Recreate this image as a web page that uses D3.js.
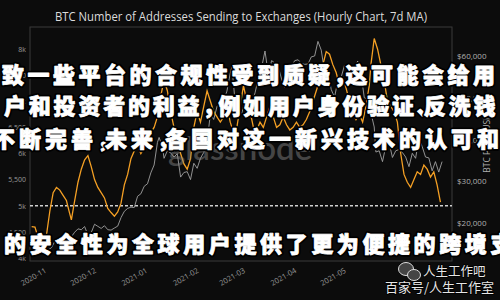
<!DOCTYPE html>
<html><head><meta charset="utf-8">
<script src="https://cdn.jsdelivr.net/npm/d3@7"></script>
<style>html,body{margin:0;padding:0;background:#0c0c0c;}svg{display:block}</style>
</head><body><svg id="c" width="500" height="300"></svg>
<script>
const chartTitle = "BTC Number of Addresses Sending to Exchanges (Hourly Chart, 7d MA)";
const rightAxisTitle = "BTC Price (USD)";
const addrDates = ["2020-10-23","2020-10-25","2020-10-27","2020-10-28","2020-10-30","2020-11-01","2020-11-03","2020-11-05","2020-11-07","2020-11-09","2020-11-11","2020-11-13","2020-11-15","2020-11-16","2020-11-18","2020-11-20","2020-11-22","2020-11-24","2020-11-26","2020-11-28","2020-11-30","2020-12-02","2020-12-04","2020-12-06","2020-12-08","2020-12-10","2020-12-12","2020-12-14","2020-12-16","2020-12-18","2020-12-20","2020-12-22","2020-12-24","2020-12-26","2020-12-28","2020-12-30","2021-01-01","2021-01-03","2021-01-05","2021-01-07","2021-01-09","2021-01-11","2021-01-13","2021-01-15","2021-01-17","2021-01-19","2021-01-21","2021-01-23","2021-01-25","2021-01-27","2021-01-29","2021-01-31","2021-02-02","2021-02-04","2021-02-06","2021-02-08","2021-02-10","2021-02-12","2021-02-14","2021-02-16","2021-02-18","2021-02-20","2021-02-22","2021-02-24","2021-02-26","2021-02-28","2021-03-02","2021-03-04","2021-03-06","2021-03-08","2021-03-10","2021-03-12","2021-03-14","2021-03-16","2021-03-18","2021-03-20","2021-03-22","2021-03-24","2021-03-26","2021-03-28","2021-03-30","2021-04-01","2021-04-03","2021-04-05","2021-04-07","2021-04-09","2021-04-11","2021-04-13","2021-04-15","2021-04-17","2021-04-19","2021-04-21","2021-04-23","2021-04-25","2021-04-27","2021-04-29","2021-05-01","2021-05-03","2021-05-05","2021-05-07","2021-05-09","2021-05-11","2021-05-13","2021-05-15","2021-05-16","2021-05-18","2021-05-20","2021-05-22","2021-05-24","2021-05-26","2021-05-28","2021-05-30","2021-06-01","2021-06-03","2021-06-05","2021-06-07","2021-06-09","2021-06-11","2021-06-13","2021-06-15","2021-06-17","2021-06-19","2021-06-21","2021-06-23","2021-06-25","2021-06-27"];
const addrValues = [4600,4590,4380,4300,4400,4450,4900,5250,5350,5300,5200,5100,4850,4730,5100,5450,5700,5880,5960,5750,5500,5350,5250,5150,4950,4870,4800,4880,5050,5400,5600,5900,6050,6150,6000,6100,6250,6400,6500,6700,7100,7400,7200,6800,6500,6300,6000,5800,5700,5900,6500,6800,6600,6900,7200,7000,6800,6700,6600,6700,6900,6600,6400,6500,6900,7300,7000,6800,6500,6450,6600,6500,6700,6900,6700,6500,6550,6700,6550,6450,6500,6600,6500,6550,6650,6800,7000,7200,7400,7700,7950,7900,7700,7550,7300,7450,7250,7000,6800,6650,6750,6600,6900,7300,7700,8200,8000,7700,7400,7000,6900,6800,6600,6000,5600,5450,5350,5500,5650,5600,5780,5700,5550,5650,5400,5070];
const priceDates = ["2020-10-23","2020-10-25","2020-10-27","2020-10-29","2020-10-31","2020-11-02","2020-11-04","2020-11-06","2020-11-08","2020-11-10","2020-11-12","2020-11-14","2020-11-16","2020-11-18","2020-11-20","2020-11-22","2020-11-24","2020-11-26","2020-11-28","2020-11-30","2020-12-02","2020-12-04","2020-12-06","2020-12-08","2020-12-10","2020-12-12","2020-12-14","2020-12-16","2020-12-18","2020-12-20","2020-12-22","2020-12-24","2020-12-26","2020-12-28","2020-12-30","2021-01-01","2021-01-03","2021-01-05","2021-01-07","2021-01-08","2021-01-10","2021-01-11","2021-01-13","2021-01-15","2021-01-17","2021-01-19","2021-01-21","2021-01-23","2021-01-25","2021-01-27","2021-01-29","2021-01-31","2021-02-02","2021-02-04","2021-02-06","2021-02-08","2021-02-10","2021-02-12","2021-02-14","2021-02-16","2021-02-18","2021-02-20","2021-02-21","2021-02-23","2021-02-25","2021-02-27","2021-03-01","2021-03-03","2021-03-05","2021-03-07","2021-03-09","2021-03-11","2021-03-13","2021-03-15","2021-03-17","2021-03-19","2021-03-21","2021-03-23","2021-03-25","2021-03-27","2021-03-29","2021-03-31","2021-04-02","2021-04-04","2021-04-06","2021-04-08","2021-04-10","2021-04-12","2021-04-14","2021-04-16","2021-04-18","2021-04-20","2021-04-22","2021-04-24","2021-04-26","2021-04-28","2021-04-30","2021-05-02","2021-05-04","2021-05-06","2021-05-08","2021-05-10","2021-05-12","2021-05-14","2021-05-16","2021-05-18","2021-05-19","2021-05-21","2021-05-23","2021-05-25","2021-05-27","2021-05-29","2021-05-31","2021-06-02","2021-06-04","2021-06-06","2021-06-08","2021-06-10","2021-06-12","2021-06-14","2021-06-16","2021-06-18","2021-06-20","2021-06-22","2021-06-24","2021-06-26","2021-06-28"];
const priceValues = [12950,13100,13650,13300,13800,13550,14100,15600,15480,15300,16300,16050,16700,17800,18600,18400,19150,17100,17700,19700,19200,18700,19350,18400,18300,18800,19250,21300,22800,23500,23800,23700,26400,27000,28800,29400,32000,33900,39300,40500,38300,35500,37300,36800,35800,36600,31000,32100,32300,30400,34300,33100,35500,36900,39300,46200,44800,47900,48700,49200,51600,55900,57400,48800,47000,46300,49600,50500,48800,51200,54800,57300,61200,55600,58900,58300,57500,54500,52400,55800,57600,58900,59100,58200,58000,58100,59800,60000,63500,61400,56200,56500,52000,50100,54000,54900,57700,56600,53600,56400,58800,55800,50000,49700,46400,43000,37000,37300,34700,38400,39300,35700,37300,37600,36900,35800,33500,36700,35500,40200,38300,35800,35600,32500,34700,32200,34700];
const leftTicks = [4000,4500,5000,5500,6000,6500,7000,7500,8000];
const leftTickLabels = ["4k","4,500","5k","5,500","6k","6,500","7k","7,500","8k"];
const rightTicks = [20000,30000,40000,50000,60000];
const monthTicks = ["2020-11-01","2020-12-01","2021-01-01","2021-02-01","2021-03-01","2021-04-01","2021-05-01"];
const monthLabels = ["2020-11","2020-12","2021-01","2021-02","2021-03","2021-04","2021-05"];
const refLevel = 5000;
const overlayLines = [
  "致一些平台的合规性受到质疑，这可能会给用",
  "户和投资者的利益，例如用户身份验证、反洗钱",
  "不断完善，未来，各国对这一新兴技术的认可和",
  "的安全性为全球用户提供了更为便捷的跨境支"
];

const parse = d3.timeParse("%Y-%m-%d");
const svg = d3.select("#c");
svg.append("rect").attr("width",500).attr("height",300).attr("fill","#0c0c0c");

const L = 30, R = 452, T = 27, B = 261;
const x = d3.scaleTime().domain([parse("2020-10-22"), parse("2021-07-04")]).range([L, R]);
const yL = d3.scaleLinear().domain([3943, 8420]).range([B, T]);
const yR = d3.scaleLinear().domain([10900, 66950]).range([B, T]);

svg.append("rect").attr("x",L).attr("y",T).attr("width",R-L).attr("height",B-T)
  .attr("fill","none").attr("stroke","#3a3a3a").attr("stroke-width",1);

svg.append("text").attr("x",241).attr("y",21).attr("text-anchor","middle")
  .attr("font-family","Open Sans, Liberation Sans, sans-serif").attr("font-size",12)
  .attr("fill","#dcdcdc").attr("textLength",372).attr("lengthAdjust","spacingAndGlyphs").text(chartTitle);

const gl = svg.append("g").attr("transform",`translate(${L},0)`)
  .call(d3.axisLeft(yL).tickValues(leftTicks).tickFormat((d,i)=>leftTickLabels[i]).tickSize(0).tickPadding(4));
gl.select(".domain").remove();
gl.selectAll("text").attr("font-size",7).attr("fill","#9a9a9a").attr("font-family","Open Sans, sans-serif");

const gr = svg.append("g").attr("transform",`translate(${R},0)`)
  .call(d3.axisRight(yR).tickValues(rightTicks).tickFormat(d=>"$"+d3.format(",")(d)).tickSize(0).tickPadding(5));
gr.select(".domain").remove();
gr.selectAll("text").attr("font-size",8).attr("fill","#b0b0b0").attr("font-family","Open Sans, sans-serif");

const gx = svg.append("g").attr("transform",`translate(0,${B})`)
  .call(d3.axisBottom(x).tickValues(monthTicks.map(parse)).tickFormat((d,i)=>monthLabels[i]).tickSize(0));
gx.select(".domain").remove();
gx.selectAll("text").attr("y",0).attr("dy",0).attr("text-anchor","end")
  .attr("transform","translate(0,11) rotate(-30)")
  .attr("font-size",7.5).attr("fill","#9a9a9a").attr("font-family","Open Sans, sans-serif");

svg.append("text").attr("transform","translate(490,142) rotate(-90)").attr("text-anchor","middle")
  .attr("font-size",8.5).attr("fill","#b0b0b0").attr("font-family","Open Sans, sans-serif").text(rightAxisTitle);

svg.append("line").attr("x1",L).attr("x2",R).attr("y1",yL(refLevel)).attr("y2",yL(refLevel))
  .attr("stroke","#d0d0d0").attr("stroke-width",1.5).attr("stroke-dasharray","3,2");

const priceData = priceDates.map((d,i)=>({d:parse(d), v:priceValues[i]}));
svg.append("path").datum(priceData)
  .attr("d", d3.line().x(p=>x(p.d)).y(p=>yR(p.v)))
  .attr("fill","none").attr("stroke","#a0a0a0").attr("stroke-width",0.9);

const addrData = addrDates.map((d,i)=>({d:parse(d), v:addrValues[i]}));
svg.append("path").datum(addrData)
  .attr("d", d3.line().x(p=>x(p.d)).y(p=>yL(p.v)))
  .attr("fill","none").attr("stroke","#f5a024").attr("stroke-width",1.3);

svg.append("text").attr("x",168).attr("y",160).attr("font-size",33)
  .attr("font-family","Lato, Open Sans, sans-serif").attr("font-weight",600)
  .attr("fill","#8a8a8a").attr("opacity",0.45).text("glassnode");

const lineSpecs = [
  {x0:2, base:83, pitch:25.5, punct:[12]},
  {x0:4, base:114, pitch:24.8, punct:[16,7]},
  {x0:-7, base:147, pitch:26, punct:[8,8]},
  {x0:4, base:252, pitch:25.6, punct:[]}
];
overlayLines.forEach((txt, li) => {
  const spec = lineSpecs[li];
  let cx = spec.x0, pi = 0;
  const g = svg.append("g");
  for (const ch of txt) {
    const isP = "，、,".includes(ch);
    const common = t => t.attr("x", cx).attr("y", spec.base)
      .attr("font-family","Noto Sans CJK SC, sans-serif").attr("font-weight",900)
      .attr("font-size",22).attr("stroke-linejoin","round").text(ch);
    g.append("text").call(common).attr("fill","#000").attr("stroke","#000").attr("stroke-width",4.5);
    g.append("text").call(common).attr("fill","#fff").attr("stroke","#fff").attr("stroke-width",0.8);
    cx += isP ? spec.punct[pi++] : spec.pitch;
  }
});

const wm = svg.append("g");
wm.append("ellipse").attr("cx",406).attr("cy",269).attr("rx",7.5).attr("ry",6.5).attr("fill","#444").attr("stroke","#ddd").attr("stroke-width",1);
wm.append("ellipse").attr("cx",414).attr("cy",275).attr("rx",6.5).attr("ry",5.5).attr("fill","#444").attr("stroke","#ddd").attr("stroke-width",1);
wm.append("text").attr("x",423).attr("y",276).attr("font-size",12.5)
  .attr("font-family","Noto Sans CJK SC, sans-serif").attr("fill","#e6e6e6")
  .attr("stroke","#000").attr("stroke-width",1.5).attr("paint-order","stroke").text("人生工作吧");
wm.append("text").attr("x",385).attr("y",292).attr("font-size",13)
  .attr("font-family","Noto Sans CJK SC, sans-serif").attr("fill","#e6e6e6")
  .attr("stroke","#000").attr("stroke-width",1.5).attr("paint-order","stroke").text("百家号/人生工作室");
</script>
</body></html>
